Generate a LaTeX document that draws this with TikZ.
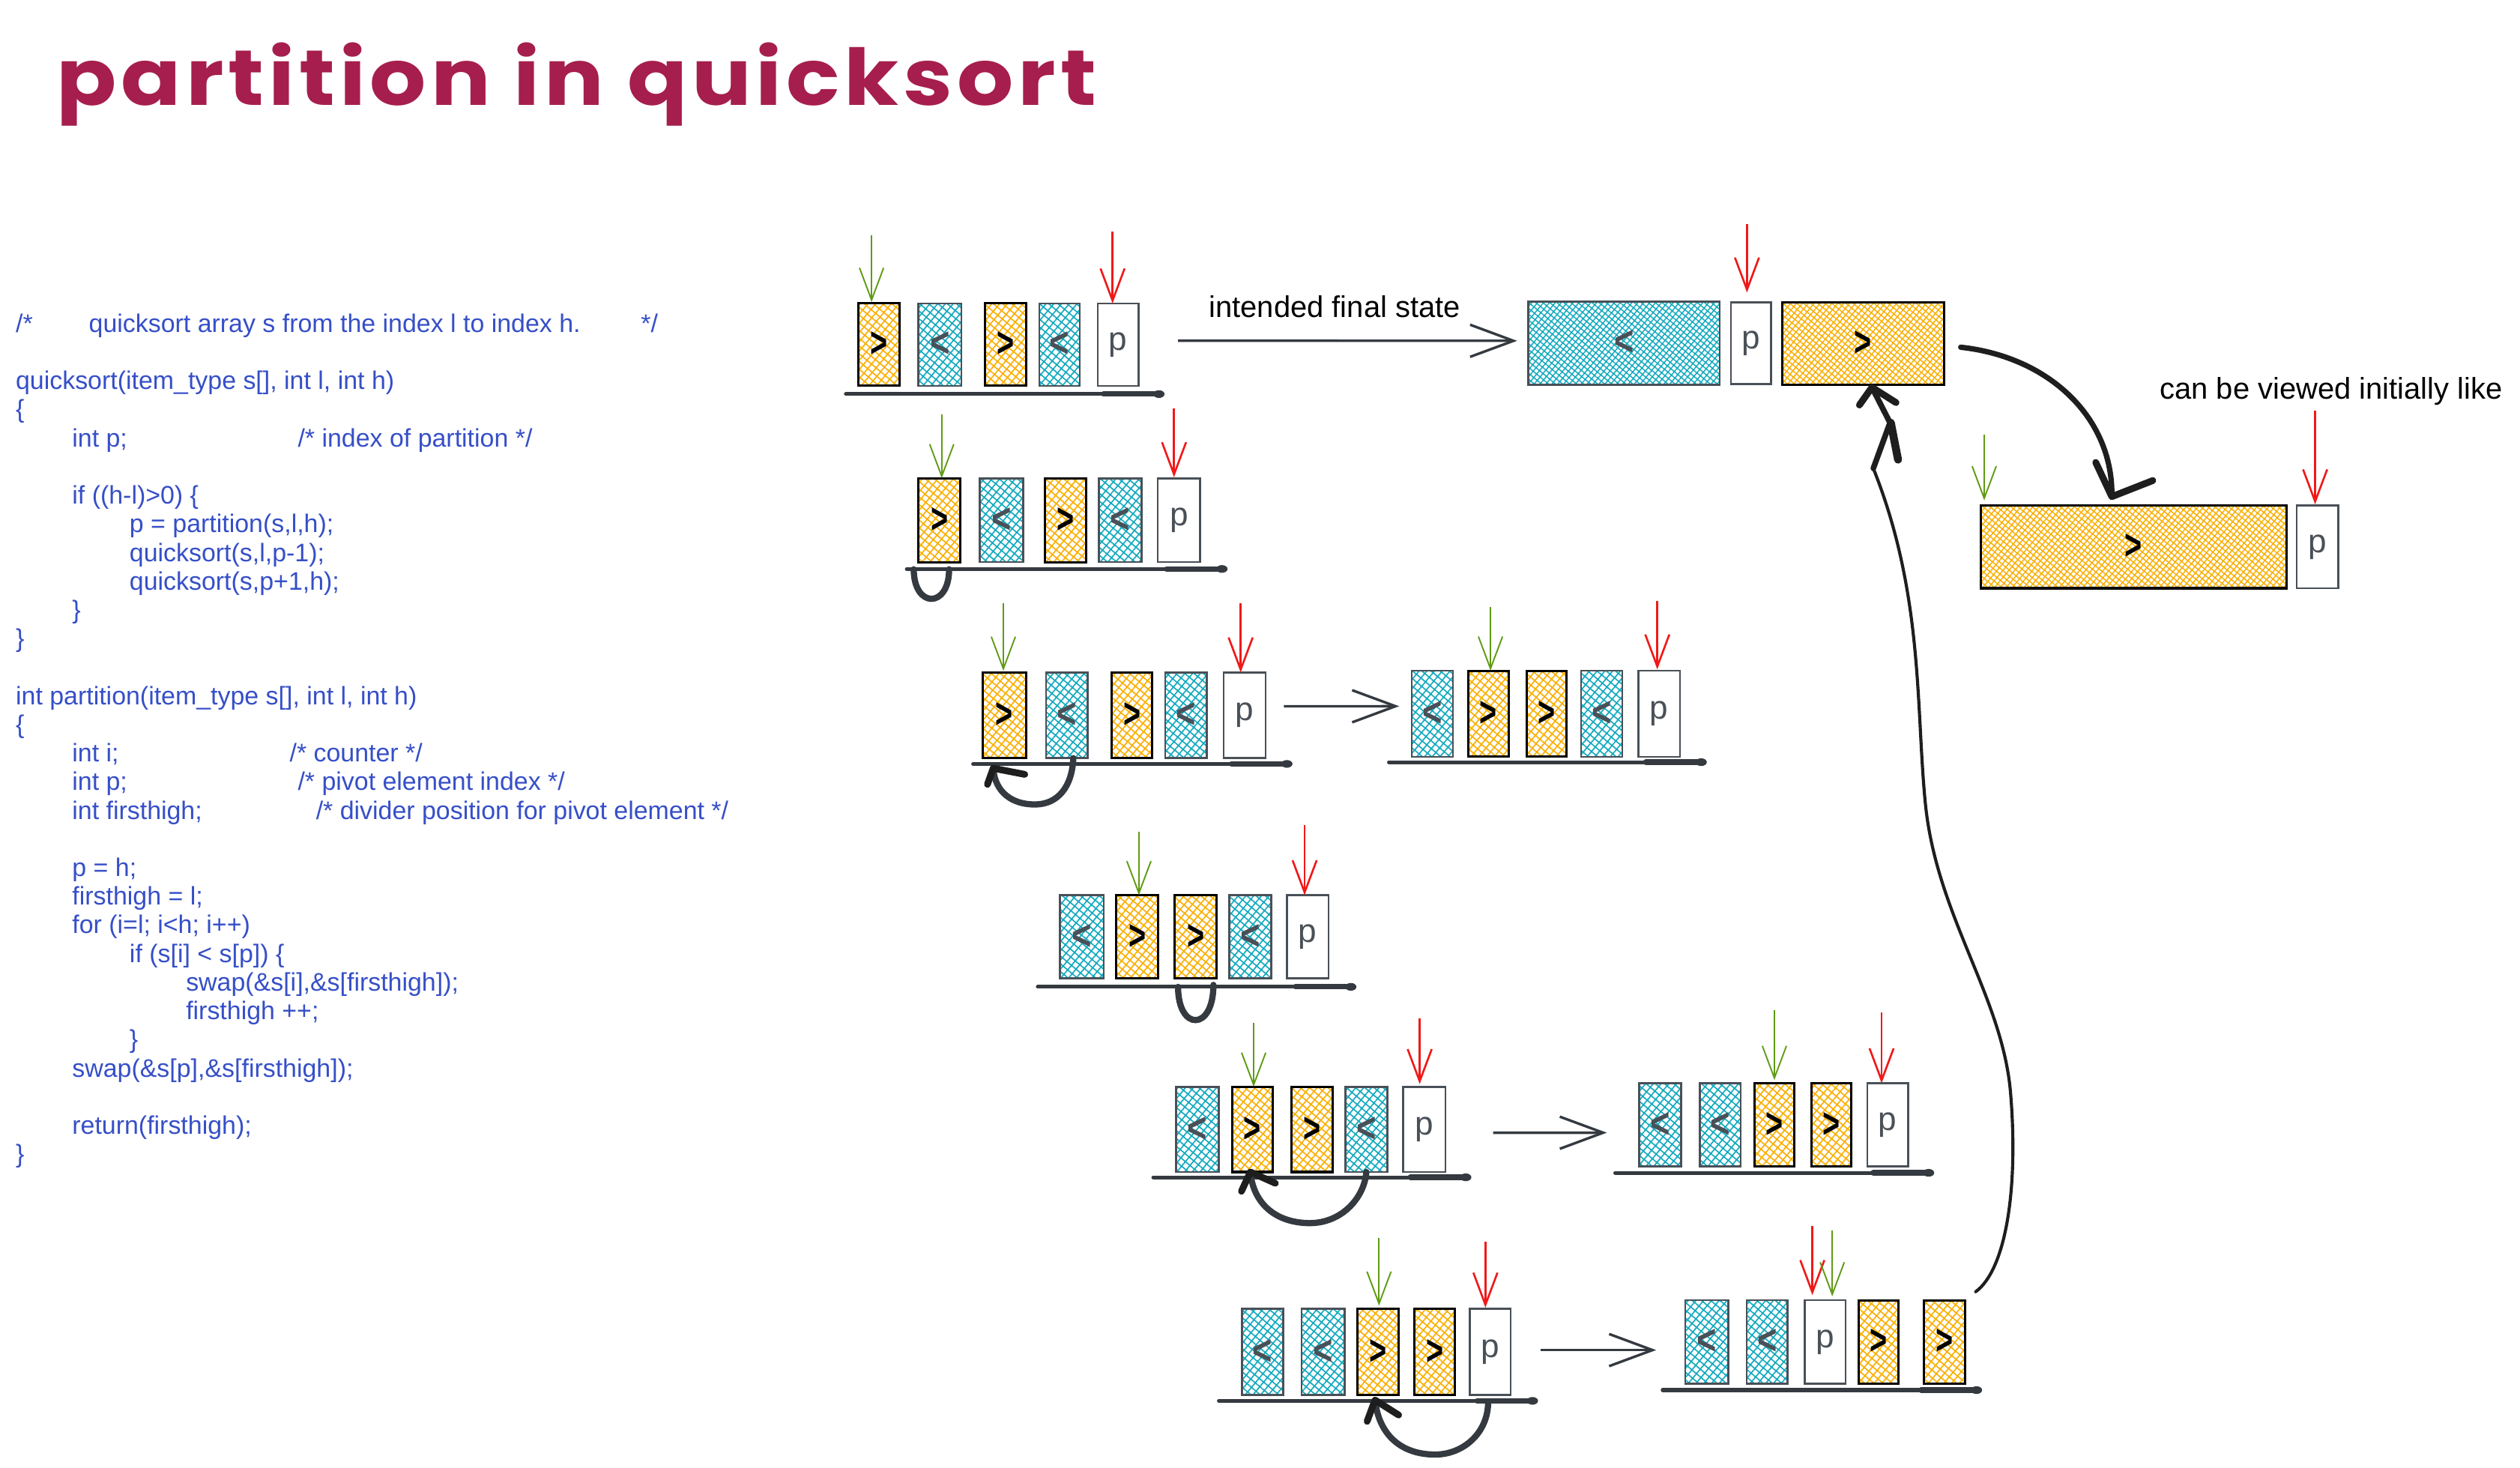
\documentclass[tikz,border=0pt]{standalone}
\usepackage{fontspec}
\usepackage{graphicx}
\usetikzlibrary{patterns.meta,arrows.meta,calc}
\newfontfamily\codefont{Liberation Sans}
\newfontfamily\titlefont{Poppins}[LetterSpace=5.0]
\definecolor{titlec}{HTML}{A61E4D}
\definecolor{codec}{HTML}{364FC7}
\definecolor{oranc}{HTML}{FAB005}
\definecolor{cyanc}{HTML}{15AABF}
\definecolor{grayb}{HTML}{495057}
\definecolor{darkc}{HTML}{343A40}
\definecolor{greenc}{RGB}{95,155,20}
\definecolor{redc}{RGB}{240,25,25}
\definecolor{inkc}{HTML}{1E1E1E}
\tikzset{
  cellbase/.style={rectangle, inner sep=0pt, outer sep=0pt},
  ocell/.style={cellbase, draw=black, line width=0.8pt, pattern={Hatch[angle=50,distance=2.1pt,line width=0.45pt]}, pattern color=oranc, text=black},
  ccell/.style={cellbase, draw=grayb, line width=0.7pt, pattern={Hatch[angle=50,distance=2.1pt,line width=0.45pt]}, pattern color=cyanc, text=grayb},
  pcell/.style={cellbase, draw=grayb, line width=0.7pt, fill=white, text=grayb},
  obig/.style={cellbase, draw=black, line width=0.8pt, pattern={Hatch[angle=50,distance=1.6pt,line width=0.4pt]}, pattern color=oranc, text=black},
  cbig/.style={cellbase, draw=grayb, line width=0.7pt, pattern={Hatch[angle=50,distance=1.6pt,line width=0.4pt]}, pattern color=cyanc, text=grayb},
  gp/.style={draw=greenc, line width=0.5pt, -{Straight Barb[length=0.4cm,width=0.3cm]}},
  rp/.style={draw=redc, line width=0.7pt, -{Straight Barb[length=0.4cm,width=0.3cm]}},
  flowarr/.style={draw=darkc, line width=0.9pt, -{Straight Barb[length=0.54cm,width=0.4cm]}},
  swapc/.style={draw=darkc, line width=2.2pt, line cap=round},
  headc/.style={draw=inkc, line width=2.4pt, line cap=round, line join=round},
  bigcurve/.style={draw=inkc, line width=1.9pt, line cap=round},
  longc/.style={draw=inkc, line width=1.1pt, line cap=round},
  codetxt/.style={anchor=base west, inner sep=0pt, text=codec, font=\codefont\fontsize{9}{10}\selectfont},
  labeltxt/.style={anchor=base, inner sep=0pt, text=black, font=\codefont\fontsize{10.6}{12}\selectfont}
}
\newcommand\gtl{{\codefont\bfseries\fontsize{15}{15}\selectfont\scalebox{0.7}[1]{>}}}
\newcommand\ltl{{\codefont\bfseries\fontsize{15}{15}\selectfont\scalebox{0.8}[1]{<}}}
\newcommand\pl{{\codefont\fontsize{11.7}{12}\selectfont p}}
\newcommand\cell[7]{\node[#2, minimum width={(#4-#3)*0.02cm}, minimum height={(#6-#5)*0.02cm}] (#1) at ({(#3+#4)/2},{(#5+#6)/2}) {#7};}
\newcommand\ptr[5]{\draw[#1] ($(#2)+(#3,#4)$) -- ($(#2)+(#3,#5)$);}
\newcommand\shelf[4]{%
  \coordinate (#1a) at (#2,#4); \coordinate (#1b) at (#3,#4);
  \draw[darkc, line width=1.35pt, line cap=round] (#1a) -- ($(#1b)+(-3,0)$);
  \draw[darkc, line width=1.9pt, line cap=round] ($(#1b)+(-38,0)$) -- ($(#1b)+(-4,0)$);
  \fill[darkc] ($(#1b)+(-3.5,0)$) ellipse [x radius=3.5, y radius=2.4];}
\newcommand\codeline[4]{\node[codetxt] (#1) at (#2,{206.7+17.82*#3}) {#4};}
\begin{document}
\begin{tikzpicture}[x=0.02cm, y=-0.02cm]
\useasboundingbox[fill=white] (0,0) rectangle (1568,913);

% title
\node[anchor=base west, inner sep=0pt, text=titlec] (title) at (35,65.3) {\resizebox{12.94cm}{0.78cm}{\titlefont\bfseries partition in quicksort}};

% code
\codeline{L0a}{9.5}{0}{/*}
\codeline{L0b}{55}{0}{quicksort array s from the index l to index h.}
\codeline{L0c}{398.5}{0}{*/}
\codeline{L2}{9.5}{2}{quicksort(item\_type s[], int l, int h)}
\codeline{L3}{9.5}{3}{\{}
\codeline{L4a}{44.6}{4}{int p;}
\codeline{L4b}{185}{4}{/* index of partition */}
\codeline{L6}{44.6}{6}{if ((h-l)>0) \{}
\codeline{L7}{80.3}{7}{p = partition(s,l,h);}
\codeline{L8}{80.3}{8}{quicksort(s,l,p-1);}
\codeline{L9}{80.3}{9}{quicksort(s,p+1,h);}
\codeline{L10}{44.6}{10}{\}}
\codeline{L11}{9.5}{11}{\}}
\codeline{L13}{9.5}{13}{int partition(item\_type s[], int l, int h)}
\codeline{L14}{9.5}{14}{\{}
\codeline{L15a}{44.6}{15}{int i;}
\codeline{L15b}{179.9}{15}{/* counter */}
\codeline{L16a}{44.6}{16}{int p;}
\codeline{L16b}{185}{16}{/* pivot element index */}
\codeline{L17a}{44.6}{17}{int firsthigh;}
\codeline{L17b}{196.3}{17}{/* divider position for pivot element */}
\codeline{L19}{44.6}{19}{p = h;}
\codeline{L20}{44.6}{20}{firsthigh = l;}
\codeline{L21}{44.6}{21}{for (i=l; i<h; i++)}
\codeline{L22}{80.3}{22}{if (s[i] < s[p]) \{}
\codeline{L23}{115.4}{23}{swap(\&s[i],\&s[firsthigh]);}
\codeline{L24}{115.4}{24}{firsthigh ++;}
\codeline{L25}{80.3}{25}{\}}
\codeline{L26}{44.6}{26}{swap(\&s[p],\&s[firsthigh]);}
\codeline{L28}{44.6}{28}{return(firsthigh);}
\codeline{L29}{9.5}{29}{\}}

% shelves
\shelf{SA}{526.3}{724.6}{245.2}
\shelf{SB}{564.2}{763.8}{354}
\shelf{SC}{605.5}{804.2}{475.3}
\shelf{SG}{864.2}{1062}{474.2}
\shelf{SD}{645.7}{844}{614}
\shelf{SE}{717.6}{915.5}{732.5}
\shelf{SH}{1005}{1203.5}{729.7}
\shelf{SF}{758.4}{957}{871.6}
\shelf{SK}{1034.5}{1233.3}{864.9}

% row A
\cell{A1}{ocell}{534.3}{559.5}{188.8}{240.1}{\gtl}
\cell{A2}{ccell}{571.4}{598.2}{188.8}{240.1}{\ltl}
\cell{A3}{ocell}{613.1}{638.3}{188.8}{240.1}{\gtl}
\cell{A4}{ccell}{646.7}{671.9}{188.8}{240.1}{\ltl}
\cell{A5}{pcell}{683}{708.5}{188.8}{240.1}{\pl}
% row B
\cell{B1}{ocell}{571.5}{597.6}{297.6}{349.7}{\gtl}
\cell{B2}{ccell}{609.7}{636.7}{297.6}{349.7}{\ltl}
\cell{B3}{ocell}{650.4}{676}{297.6}{349.7}{\gtl}
\cell{B4}{ccell}{683.8}{710.2}{297.6}{349.7}{\ltl}
\cell{B5}{pcell}{720.4}{746.8}{297.6}{349.7}{\pl}
% row C
\cell{C1}{ocell}{611.5}{638.3}{418.4}{471.7}{\gtl}
\cell{C2}{ccell}{650.8}{676.9}{418.4}{471.7}{\ltl}
\cell{C3}{ocell}{691.8}{716.8}{418.4}{471.7}{\gtl}
\cell{C4}{ccell}{725}{751}{418.4}{471.7}{\ltl}
\cell{C5}{pcell}{761.4}{787.5}{418.4}{471.7}{\pl}
% row C'
\cell{G1}{ccell}{878.4}{904}{417.3}{470.9}{\ltl}
\cell{G2}{ocell}{913.4}{939}{417.3}{470.9}{\gtl}
\cell{G3}{ocell}{949.8}{974.8}{417.3}{470.9}{\gtl}
\cell{G4}{ccell}{983.7}{1009.4}{417.3}{470.9}{\ltl}
\cell{G5}{pcell}{1019.3}{1045.3}{417.3}{470.9}{\pl}
% row D
\cell{D1}{ccell}{659.6}{686.7}{557}{608.8}{\ltl}
\cell{D2}{ocell}{694.4}{720.7}{557}{608.8}{\gtl}
\cell{D3}{ocell}{731}{757}{557}{608.8}{\gtl}
\cell{D4}{ccell}{764.8}{791}{557}{608.8}{\ltl}
\cell{D5}{pcell}{800.7}{826.6}{557}{608.8}{\pl}
% row E
\cell{E1}{ccell}{731.9}{758.2}{676.2}{729.2}{\ltl}
\cell{E2}{ocell}{766.7}{791.8}{676.2}{729.2}{\gtl}
\cell{E3}{ocell}{803.4}{829.3}{676.2}{729.2}{\gtl}
\cell{E4}{ccell}{837}{863.3}{676.2}{729.2}{\ltl}
\cell{E5}{pcell}{873}{899.3}{676.2}{729.2}{\pl}
% row E'
\cell{H1}{ccell}{1020}{1046}{674}{725.7}{\ltl}
\cell{H2}{ccell}{1057.6}{1083}{674}{725.7}{\ltl}
\cell{H3}{ocell}{1091.5}{1116.6}{674}{725.7}{\gtl}
\cell{H4}{ocell}{1127}{1152}{674}{725.7}{\gtl}
\cell{H5}{pcell}{1161.8}{1187.3}{674}{725.7}{\pl}
% row F
\cell{F1}{ccell}{772.8}{798.3}{814.4}{868}{\ltl}
\cell{F2}{ccell}{809.8}{836.6}{814.4}{868}{\ltl}
\cell{F3}{ocell}{844.8}{870.3}{814.4}{868}{\gtl}
\cell{F4}{ocell}{880}{905.3}{814.4}{868}{\gtl}
\cell{F5}{pcell}{914.5}{940}{814.4}{868}{\pl}
% row F'
\cell{K1}{ccell}{1048.5}{1075.4}{809}{861}{\ltl}
\cell{K2}{ccell}{1086.8}{1112.3}{809}{861}{\ltl}
\cell{K3}{pcell}{1122.8}{1148.3}{809}{861}{\pl}
\cell{K4}{ocell}{1156.5}{1181}{809}{861}{\gtl}
\cell{K5}{ocell}{1197.3}{1222.5}{809}{861}{\gtl}
% final state
\cell{CY}{cbig}{951}{1070}{187.8}{239.3}{\ltl}
\cell{FP}{pcell}{1077}{1102}{188}{239}{\pl}
\cell{FO}{obig}{1109}{1209.5}{188}{239.5}{\gtl}
\cell{BO}{obig}{1232.6}{1422.6}{314.6}{366}{\gtl}
\cell{BP}{pcell}{1429}{1455}{314.6}{366}{\pl}

% pointers
\ptr{gp}{A1.north}{-4.6}{-42.4}{-0.9}
\ptr{rp}{A5.north}{-3.5}{-44.8}{0}
\ptr{gp}{B1.north}{1.4}{-39.9}{0}
\ptr{rp}{B5.north}{-3.1}{-43.6}{-0.7}
\ptr{gp}{C1.north}{-0.6}{-43.1}{-1}
\ptr{rp}{C5.north}{-2.5}{-43.1}{0}
\ptr{gp}{G2.north}{1.2}{-39.6}{0}
\ptr{rp}{G5.north}{-1.1}{-43.5}{-0.8}
\ptr{gp}{D2.north}{1.1}{-39.6}{0}
\ptr{rp}{D5.north}{-1.9}{-43.7}{0}
\ptr{gp}{E2.north}{0.8}{-39.6}{0}
\ptr{rp}{E5.north}{-2.8}{-42.6}{-1.7}
\ptr{gp}{H3.north}{0}{-45.5}{-2}
\ptr{rp}{H5.north}{-3.8}{-44}{0}
\ptr{gp}{F3.north}{0.5}{-44.4}{-2}
\ptr{rp}{F5.north}{-3}{-41.7}{-0.8}
\ptr{rp}{K3.north}{-7.9}{-46}{-3.2}
\ptr{gp}{K3.north}{4.5}{-43.6}{-2.4}
\ptr{rp}{FP.north}{-2.5}{-48.5}{-6}
\ptr{gp}{BO.north west}{2}{-44.2}{-3.3}
\ptr{rp}{BP.north}{-1.5}{-59.1}{-0.8}

% flow arrows
\draw[flowarr] ($(A5.east)+(24.5,-2.5)$) -- ($(CY.west)+(-7,-1.5)$);
\draw[flowarr] ($(C5.east)+(11.4,-5.6)$) -- ($(G1.west)+(-7.8,-4.7)$);
\draw[flowarr] ($(E5.east)+(29.7,2.1)$) -- ($(H1.west)+(-20.2,4.9)$);
\draw[flowarr] ($(F5.east)+(18.6,-1.2)$) -- ($(K1.west)+(-18,5)$);

\node[labeltxt] (lab1) at (830.5,197.4) {intended final state};
\node[labeltxt] (lab2) at (1450.5,248.3) {can be viewed initially like};

% swap loops
\draw[swapc] ($(B1.south)+(-16,4.5)$) .. controls ($(B1.south)+(-16,29)$) and ($(B1.south)+(6,29)$) .. ($(B1.south)+(6,4.5)$);
\draw[swapc] ($(D3.south)+(-11,5.2)$) .. controls ($(D3.south)+(-11,33)$) and ($(D3.south)+(11,33)$) .. ($(D3.south)+(11,4)$);

\coordinate (CT) at ($(C1.south)+(-6.9,6.3)$);
\draw[swapc] ($(C2.south)+(4,0)$) .. controls (667,490) and (658,500) .. (645,500.5) .. controls (630,501) and (619,493) .. (CT);
\draw[headc] ($(CT)+(-3.6,10)$) -- (CT) -- ($(CT)+(19.6,3.8)$);

\coordinate (ET) at ($(E2.south)+(-1.3,0)$);
\draw[swapc] (E4.south) .. controls (849,745) and (835,761) .. (815,761) .. controls (795,761) and (780,750) .. (ET);
\draw[headc] ($(ET)+(-5.5,12)$) -- (ET) -- ($(ET)+(15.6,7)$);

\coordinate (FT) at ($(F3.south)+(-2,3.1)$);
\draw[swapc] ($(F5.south)+(-1.3,4)$) .. controls (926,892) and (910,905) .. (893,905) .. controls (872,905) and (858,893) .. (FT);
\draw[headc] ($(FT)+(-4.9,13.2)$) -- (FT) -- ($(FT)+(14.7,9.3)$);

% top right curved arrow
\coordinate (RT) at ($(BO.north)+(-13.6,-5.6)$);
\draw[bigcurve] ($(FO.east)+(10.5,2.3)$) .. controls (1275,222) and (1315,260) .. (RT);
\draw[headc] ($(RT)+(-10,-21.3)$) -- (RT) -- ($(RT)+(25.5,-10)$);

% long return arrow
\coordinate (LT) at ($(FO.south)+(5.5,1.5)$);
\coordinate (LM) at (1165.6,291.4);
\draw[longc] ($(K5.north east)+(6.8,-5.3)$) .. controls (1248,790) and (1256,740) .. (1251,680) .. controls (1246,620) and (1205,570) .. (1198,500) .. controls (1192,440) and (1197,370) .. (LM);
\draw[inkc, line width=2pt, line cap=round, line join=round] (LM) -- (1176,263) -- (LT);
\draw[headc] ($(LT)+(-7.8,11)$) -- (LT) -- ($(LT)+(15,9.5)$);
\draw[inkc, line width=2.8pt, line cap=round] (1176.5,263) -- (1181,286);
\end{tikzpicture}
\end{document}
